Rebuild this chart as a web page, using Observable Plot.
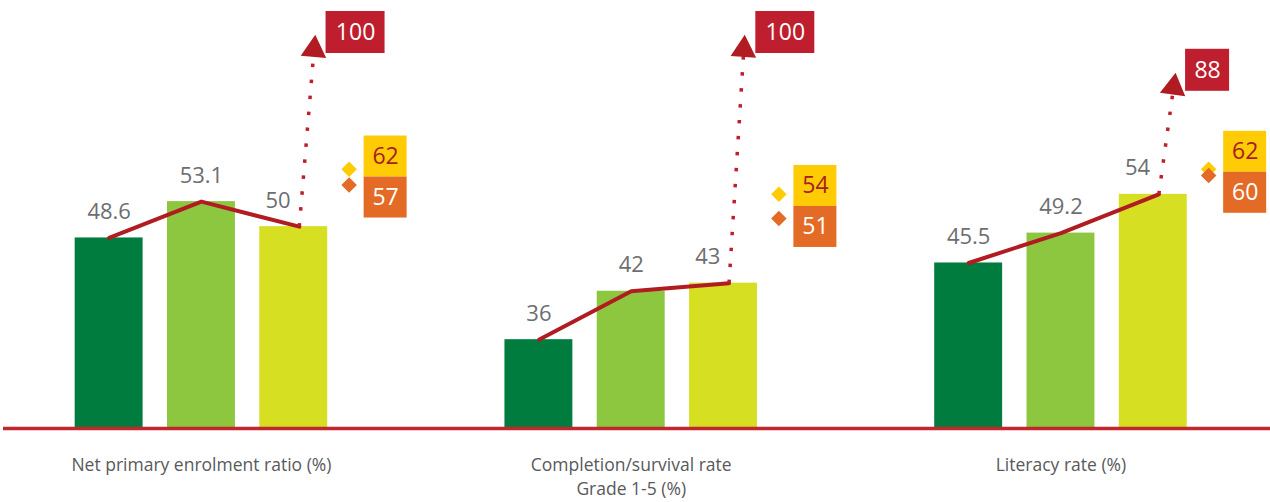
<!DOCTYPE html>
<html><head><meta charset="utf-8">
<script src="https://cdn.jsdelivr.net/npm/d3@7"></script>
<script src="https://cdn.jsdelivr.net/npm/@observablehq/plot@0.6"></script>
<style>body{margin:0;background:#fff}#chart{width:1270px;height:502px}</style>
</head><body><div id="chart"></div>
<script>
// ---- data ----
const categories = ["Net primary enrolment ratio (%)", "Completion/survival rate\nGrade 1-5 (%)", "Literacy rate (%)"];
const seriesNames = ["Series 1", "Series 2", "Series 3"];
const enrolment = [48.6, 53.1, 50];
const completion = [36, 42, 43];
const literacy = [45.5, 49.2, 54];
const targets = [100, 100, 88];
const yellowMarks = [62, 54, 62];
const orangeMarks = [57, 51, 60];

// ---- styles / layout ----
const barColors = ["#007c3e", "#8dc63f", "#d7df23"];
const RED = "#b01c22", BOXRED = "#be1e2d", YELLOW = "#ffcb05", ORANGE = "#e36b25";
const W = 1270, H = 502;
const xDomain = [-2.177, 11.582];
const BASE = 25, KNEE = 54, COMPRESS = 0.39;
const yTransform = v => v <= KNEE ? v : KNEE + (v - KNEE) * COMPRESS;
const yDomain = [BASE, yTransform(100)], yRange = [428, 49];
const slot = W / (xDomain[1] - xDomain[0]);
const GAP = 4.656;
const pos = (g, b) => g * GAP + (b - 1);

const groupValues = [enrolment, completion, literacy];
const bars = [];
groupValues.forEach((vals, g) => vals.forEach((v, b) => bars.push({g, b, series: seriesNames[b], value: v, x: pos(g, b)})));

const targetData = targets.map((t, g) => ({g, value: t, x0: pos(g, 2) + 0.06, v0: groupValues[g][2], x1: pos(g, 2) + 0.22}));

const markData = [];
yellowMarks.forEach((v, g) => markData.push({g, kind: "yellow", value: v, mid: (v + orangeMarks[g]) / 2, x: pos(g, 2) + 0.6}));
orangeMarks.forEach((v, g) => markData.push({g, kind: "orange", value: v, mid: (v + yellowMarks[g]) / 2, x: pos(g, 2) + 0.6}));
const yellowD = markData.filter(d => d.kind === "yellow");
const orangeD = markData.filter(d => d.kind === "orange");

// pixel helpers (mirror the scales) used only to orient the arrowheads
const pxX = u => (u - xDomain[0]) * slot;
const pxY = v => yRange[0] + (yTransform(v) - yDomain[0]) * (yRange[1] - yRange[0]) / (yDomain[1] - yDomain[0]);
const angle = d => Math.atan2(pxX(d.x1) - pxX(d.x0), pxY(d.v0) - pxY(d.value)) * 180 / Math.PI;

const FONT = "'Open Sans', sans-serif";

const chart = Plot.plot({
  width: W, height: H,
  marginLeft: 3, marginRight: 0, marginTop: 0, marginBottom: 0,
  style: {fontFamily: FONT, background: "white"},
  x: {domain: xDomain, range: [0, W], axis: null},
  y: {domain: yDomain, range: yRange, transform: yTransform, axis: null},
  color: {domain: seriesNames, range: barColors},
  marks: [
    Plot.rect(bars, {x1: d => d.x - 0.368, x2: d => d.x + 0.368, y1: () => BASE, y2: "value", fill: "series"}),
    Plot.ruleY([BASE], {stroke: "#c1272d", strokeWidth: 3.5}),
    Plot.line(bars, {x: d => d.x + (d.b === 2 ? 0.06 : 0), y: "value", z: "g", stroke: RED, strokeWidth: 4}),
    Plot.text(bars, {x: d => d.x + (d.b === 2 ? -0.17 : 0), y: "value", dy: -26, text: d => String(d.value), fontSize: 22, fill: "#6d6e71"}),
    Plot.link(targetData, {x1: "x0", y1: "v0", x2: "x1", y2: "value", stroke: BOXRED, strokeWidth: 3.5, strokeDasharray: "3.5,12.5"}),
    Plot.dot(targetData, {x: "x1", y: "value", symbol: "triangle", r: 9.5, fill: RED, stroke: "none", rotate: angle}),
    Plot.rect(targetData, {x1: d => d.x1 + 12 / slot, x2: d => d.x1 + (26 + 15 * String(d.value).length) / slot, y1: "value", y2: "value", insetTop: -38, insetBottom: -4, fill: BOXRED}),
    Plot.text(targetData, {x: d => d.x1 + (12 + (14 + 15 * String(d.value).length) / 2) / slot, y: "value", dy: -17, text: d => String(d.value), fontSize: 23, fill: "white"}),
    Plot.dot(yellowD, {x: "x", y: "value", symbol: "diamond2", r: 7, fill: YELLOW, stroke: "none"}),
    Plot.dot(orangeD, {x: "x", y: "value", symbol: "diamond2", r: 7, fill: ORANGE, stroke: "none"}),
    Plot.rect(yellowD, {x1: d => d.x + 15 / slot, x2: d => d.x + 58 / slot, y1: "mid", y2: "mid", insetTop: -41, insetBottom: 0, fill: YELLOW}),
    Plot.rect(orangeD, {x1: d => d.x + 15 / slot, x2: d => d.x + 58 / slot, y1: "mid", y2: "mid", insetTop: 0, insetBottom: -41, fill: ORANGE}),
    Plot.text(yellowD, {x: d => d.x + 36.5 / slot, y: "mid", dy: -20.5, text: d => String(d.value), fontSize: 23, fill: "#a61e22"}),
    Plot.text(orangeD, {x: d => d.x + 36.5 / slot, y: "mid", dy: 20.5, text: d => String(d.value), fontSize: 23, fill: "white"}),
    Plot.text(categories, {x: (d, i) => pos(i, 1), y: () => BASE, dy: 25, lineAnchor: "top", text: d => d, fontSize: 17.5, lineHeight: 1.4, fill: "#58595b"})
  ]
});
document.getElementById("chart").appendChild(chart);
</script>
</body></html>
